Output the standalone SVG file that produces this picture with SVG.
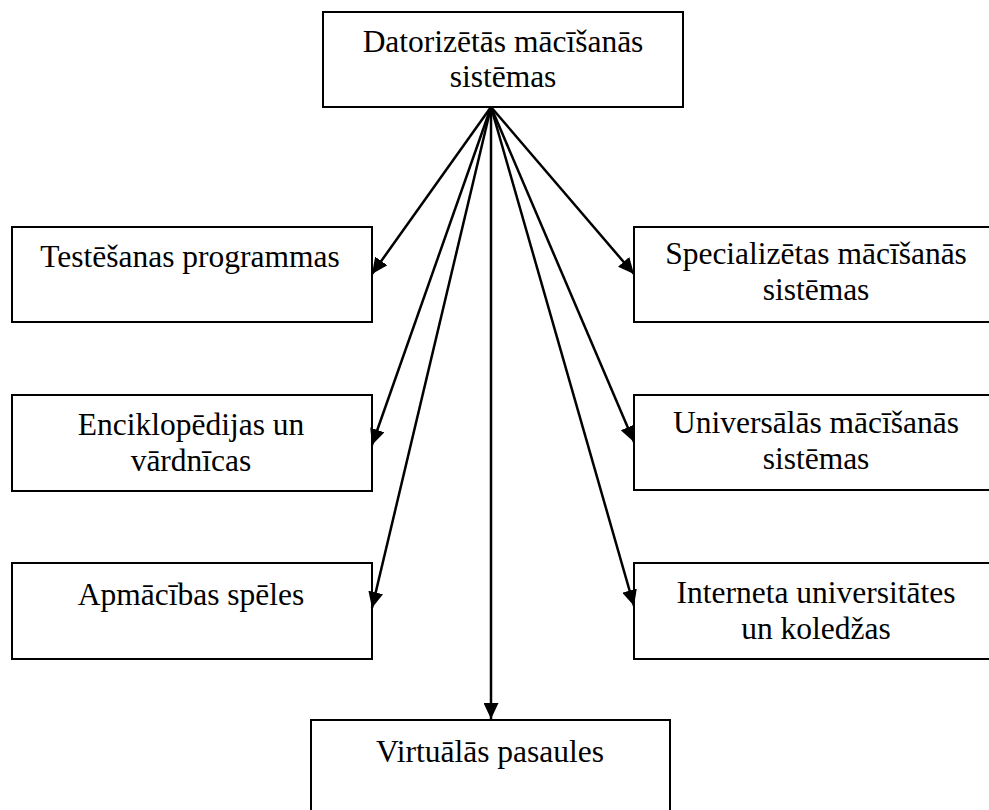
<svg xmlns="http://www.w3.org/2000/svg" width="989" height="810" viewBox="0 0 989 810">
  <style>
    .box { fill: #ffffff; stroke: #000000; stroke-width: 2; }
    .lbl { font-family: "Liberation Serif", "Times New Roman", serif; font-size: 31.5px; fill: #000000; text-anchor: middle; }
    .edge { stroke: #000000; stroke-width: 2.5; fill: none; marker-end: url(#head); }
  </style>
  <defs>
    <marker id="head" markerUnits="userSpaceOnUse" markerWidth="17" markerHeight="15" refX="16" refY="7.5" orient="auto">
      <path d="M0,0 L16,7.5 L0,15 Z" fill="#000000"/>
    </marker>
  </defs>
  <rect width="989" height="810" fill="#ffffff"/>

  <g id="root">
    <rect class="box" x="323" y="12" width="360" height="95"/>
    <text class="lbl" x="503" y="52">Datorizētās mācīšanās</text>
    <text class="lbl" x="503" y="87">sistēmas</text>
  </g>

  <g id="testing">
    <rect class="box" x="12" y="227" width="360" height="95"/>
    <text class="lbl" x="190" y="267">Testēšanas programmas</text>
  </g>

  <g id="encyclopedias">
    <rect class="box" x="12" y="395" width="360" height="96"/>
    <text class="lbl" x="191" y="435">Enciklopēdijas un</text>
    <text class="lbl" x="191" y="471">vārdnīcas</text>
  </g>

  <g id="games">
    <rect class="box" x="12" y="563" width="360" height="96"/>
    <text class="lbl" x="191" y="605">Apmācības spēles</text>
  </g>

  <g id="specialized">
    <rect class="box" x="634" y="227" width="366" height="95"/>
    <text class="lbl" x="816" y="264">Specializētas mācīšanās</text>
    <text class="lbl" x="816" y="300">sistēmas</text>
  </g>

  <g id="universal">
    <rect class="box" x="634" y="395" width="366" height="95"/>
    <text class="lbl" x="816" y="433">Universālās mācīšanās</text>
    <text class="lbl" x="816" y="469">sistēmas</text>
  </g>

  <g id="internet">
    <rect class="box" x="634" y="563" width="366" height="96"/>
    <text class="lbl" x="816" y="603">Interneta universitātes</text>
    <text class="lbl" x="816" y="639">un koledžas</text>
  </g>

  <g id="virtual">
    <rect class="box" x="311" y="720" width="359" height="100"/>
    <text class="lbl" x="490" y="762">Virtuālās pasaules</text>
  </g>

  <g id="connectors">
    <line class="edge" x1="491" y1="107" x2="372" y2="274"/>
    <line class="edge" x1="491" y1="107" x2="372" y2="445"/>
    <line class="edge" x1="491" y1="107" x2="372" y2="608"/>
    <line class="edge" x1="491" y1="107" x2="491" y2="719"/>
    <line class="edge" x1="491" y1="107" x2="634" y2="274"/>
    <line class="edge" x1="491" y1="107" x2="634" y2="442"/>
    <line class="edge" x1="491" y1="107" x2="634" y2="606"/>
  </g>
</svg>
